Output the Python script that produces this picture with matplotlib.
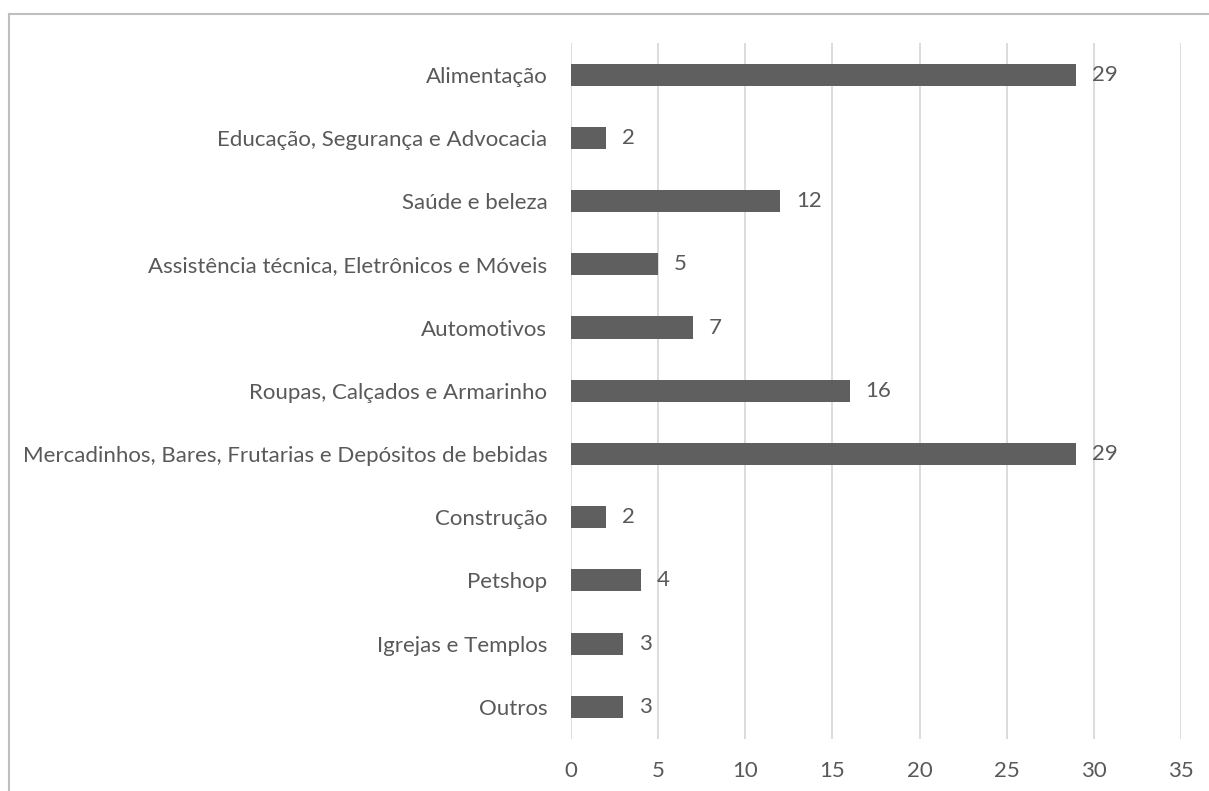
import matplotlib.pyplot as plt
from matplotlib.lines import Line2D

categories = [
    "Alimentação",
    "Educação, Segurança e Advocacia",
    "Saúde e beleza",
    "Assistência técnica, Eletrônicos e Móveis",
    "Automotivos",
    "Roupas, Calçados e Armarinho",
    "Mercadinhos, Bares, Frutarias e Depósitos de bebidas",
    "Construção",
    "Petshop",
    "Igrejas e Templos",
    "Outros",
]
counts = [29, 2, 12, 5, 7, 16, 29, 2, 4, 3, 3]
x_ticks = [0, 5, 10, 15, 20, 25, 30, 35]

TEXT = "#595959"
BAR = "#5f5f5f"
GRID = "#d9d9d9"

plt.rcParams["font.family"] = ["Lato", "DejaVu Sans"]

fig = plt.figure(figsize=(12.09, 7.91), dpi=100)
ax = fig.add_axes([571 / 1209, 1 - 738.5 / 791, 610 / 1209, 695.5 / 791])

y = list(range(len(categories)))[::-1]
ax.barh(y, counts, height=0.35, color=BAR, zorder=3)
for yi, v in zip(y, counts):
    ax.text(v + 0.9, yi, str(v), va="center", ha="left", fontsize=16, color=TEXT)

ax.set_xlim(0, 35)
ax.set_ylim(-0.5, len(categories) - 0.5)
ax.set_xticks(x_ticks)
ax.set_yticks(y)
ax.set_yticklabels(categories)
ax.tick_params(axis="both", length=0, labelsize=16, labelcolor=TEXT)
ax.tick_params(axis="y", pad=17)
ax.tick_params(axis="x", pad=16)
ax.xaxis.grid(True, color=GRID, linewidth=1.3, zorder=0)
for s in ax.spines.values():
    s.set_visible(False)

# chart frame (only top and left edges fall inside the image)
fig.add_artist(Line2D([8.5 / 1209, 8.5 / 1209], [1 - 14 / 791, 0], color="#bfbfbf", linewidth=1.5))
fig.add_artist(Line2D([8.5 / 1209, 1208 / 1209], [1 - 14 / 791, 1 - 14 / 791], color="#bfbfbf", linewidth=1.5))

fig.savefig("out.png", dpi=100, facecolor="white")
